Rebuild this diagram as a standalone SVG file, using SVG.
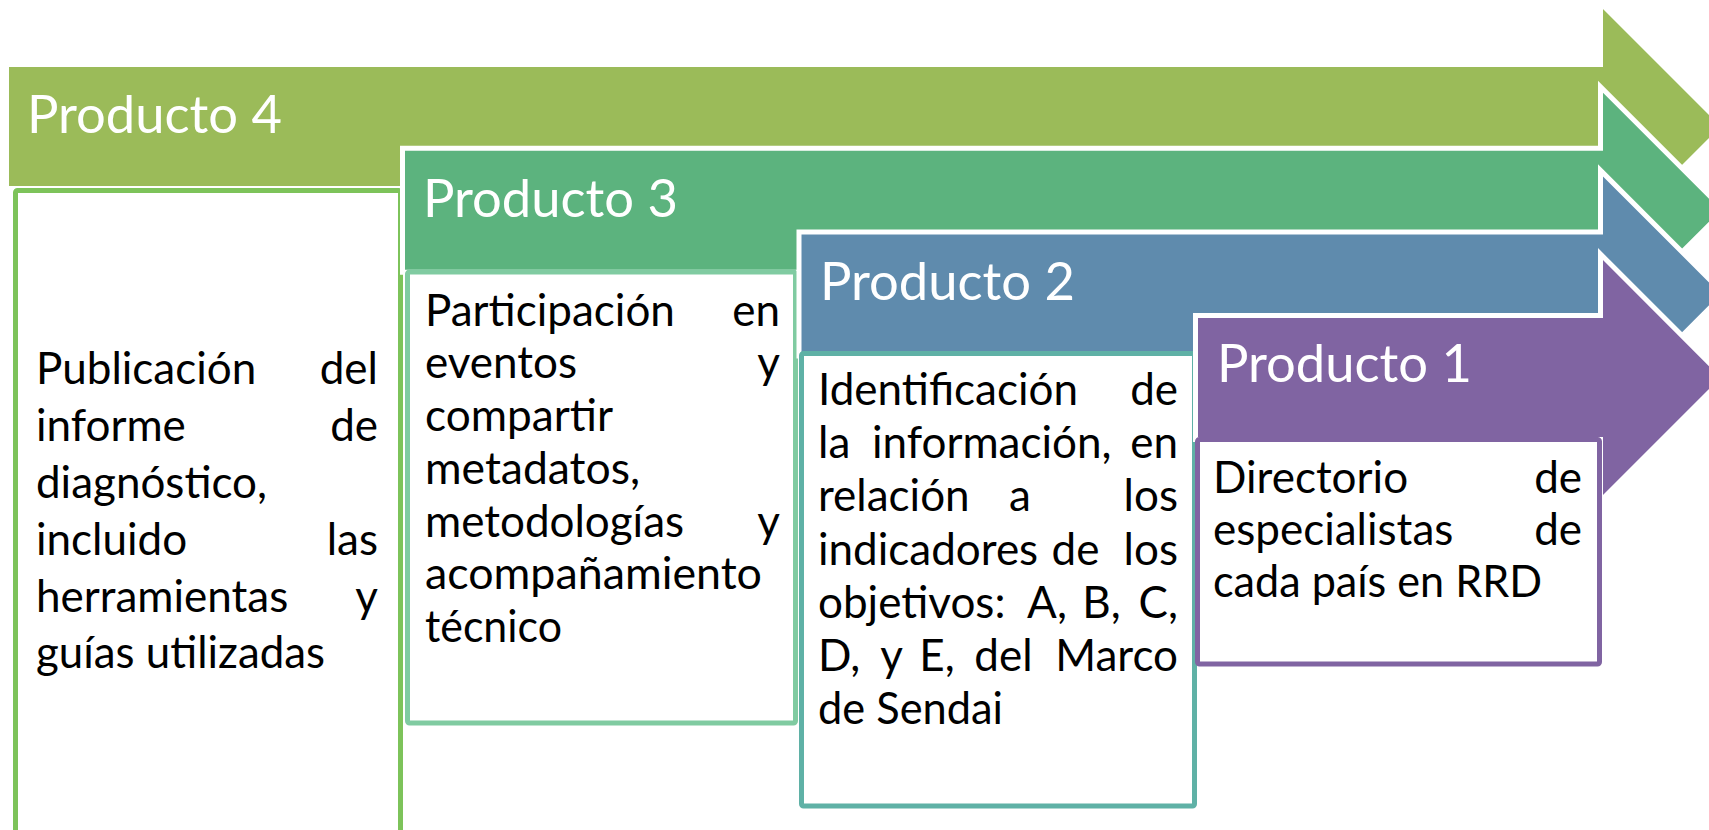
<svg xmlns="http://www.w3.org/2000/svg" width="1709" height="830" viewBox="0 0 1709 830">
<style>
.arrow{stroke:#FFFFFF;stroke-width:5;stroke-linejoin:miter}
.box{fill:#FFFFFF;stroke-width:5}
.title{font-family:Lato,"Open Sans",sans-serif;font-size:53px;fill:#FFFFFF}
.body{font-family:Lato,"Open Sans",sans-serif;font-size:44px;fill:#000000}
.e{text-anchor:end}
.m{text-anchor:middle}
</style>
<rect width="1709" height="830" fill="#FFFFFF"/>
<g id="producto4">
<path class="arrow" fill="#9BBB59" d="M6.5,64.5 H1600.5 V3 L1724,126.5 L1600.5,250 V188.5 H6.5 Z"/>
<rect class="box" x="15.5" y="190.5" width="385" height="642" rx="2" stroke="#7DC35A"/>
<text class="title" x="27" y="133" textLength="255" lengthAdjust="spacingAndGlyphs">Producto 4</text>
<text class="body" x="36" y="384">Publicación</text><text class="body e" x="378" y="384">del</text>
<text class="body" x="36" y="441">informe</text><text class="body e" x="378" y="441">de</text>
<text class="body" x="36" y="497.5" textLength="231" lengthAdjust="spacingAndGlyphs">diagnóstico,</text>
<text class="body" x="36" y="554.5">incluido</text><text class="body e" x="378" y="554.5">las</text>
<text class="body" x="36" y="611.5">herramientas</text><text class="body e" x="378" y="611.5">y</text>
<text class="body" x="36" y="667.5" textLength="289" lengthAdjust="spacingAndGlyphs">guías utilizadas</text>
</g>
<g id="producto3">
<path class="arrow" fill="#5CB37E" d="M402.5,148.2 H1600.5 V86.7 L1724,210.2 L1600.5,333.7 V272.2 H402.5 Z"/>
<rect class="box" x="407.5" y="272" width="388" height="451" rx="2" stroke="#80CBA1"/>
<text class="title" x="423" y="217" textLength="255" lengthAdjust="spacingAndGlyphs">Producto 3</text>
<text class="body" x="425" y="325.7">Participación</text><text class="body e" x="780" y="325.7">en</text>
<text class="body" x="425" y="378.4">eventos</text><text class="body e" x="780" y="378.4">y</text>
<text class="body" x="425" y="431.1" textLength="188" lengthAdjust="spacingAndGlyphs">compartir</text>
<text class="body" x="425" y="483.8" textLength="215" lengthAdjust="spacingAndGlyphs">metadatos,</text>
<text class="body" x="425" y="536.5">metodologías</text><text class="body e" x="780" y="536.5">y</text>
<text class="body" x="425" y="589.2" textLength="337" lengthAdjust="spacingAndGlyphs">acompañamiento</text>
<text class="body" x="425" y="641.9" textLength="137" lengthAdjust="spacingAndGlyphs">técnico</text>
</g>
<g id="producto2">
<path class="arrow" fill="#5F8BAD" d="M799,231.9 H1600.5 V170.4 L1724,293.9 L1600.5,417.4 V355.9 H799 Z"/>
<rect class="box" x="801.5" y="353.5" width="393" height="452.5" rx="2" stroke="#5FB1A6"/>
<text class="title" x="820" y="300" textLength="255" lengthAdjust="spacingAndGlyphs">Producto 2</text>
<text class="body" x="818" y="405">Identificación</text><text class="body e" x="1178" y="405">de</text>
<text class="body" x="818" y="458.2">la</text><text class="body" x="872" y="458.2">información,</text><text class="body e" x="1178" y="458.2">en</text>
<text class="body" x="818" y="511.4">relación</text><text class="body m" x="1020" y="511.4">a</text><text class="body e" x="1178" y="511.4">los</text>
<text class="body" x="818" y="564.6">indicadores</text><text class="body m" x="1075.5" y="564.6">de</text><text class="body e" x="1178" y="564.6">los</text>
<text class="body" x="818" y="617.8">objetivos:</text><text class="body m" x="1047" y="617.8">A,</text><text class="body m" x="1101.5" y="617.8">B,</text><text class="body e" x="1178" y="617.8">C,</text>
<text class="body" x="818" y="671">D,</text><text class="body m" x="891.5" y="671">y</text><text class="body m" x="937" y="671">E,</text><text class="body m" x="1003.5" y="671">del</text><text class="body e" x="1178" y="671">Marco</text>
<text class="body" x="818" y="724.2" textLength="185" lengthAdjust="spacingAndGlyphs">de Sendai</text>
</g>
<g id="producto1">
<path class="arrow" fill="#8064A2" d="M1195.5,315.6 H1600.5 V254.1 L1724,377.6 L1600.5,501.1 V439.6 H1195.5 Z"/>
<rect class="box" x="1197.5" y="439.5" width="402" height="224.5" rx="2" stroke="#8064A2"/>
<text class="title" x="1217" y="382" textLength="255" lengthAdjust="spacingAndGlyphs">Producto 1</text>
<text class="body" x="1213" y="493">Directorio</text><text class="body e" x="1582" y="493">de</text>
<text class="body" x="1213" y="545">especialistas</text><text class="body e" x="1582" y="545">de</text>
<text class="body" x="1213" y="597" textLength="329" lengthAdjust="spacingAndGlyphs">cada país en RRD</text>
</g>
<g id="connectors"/>
</svg>
